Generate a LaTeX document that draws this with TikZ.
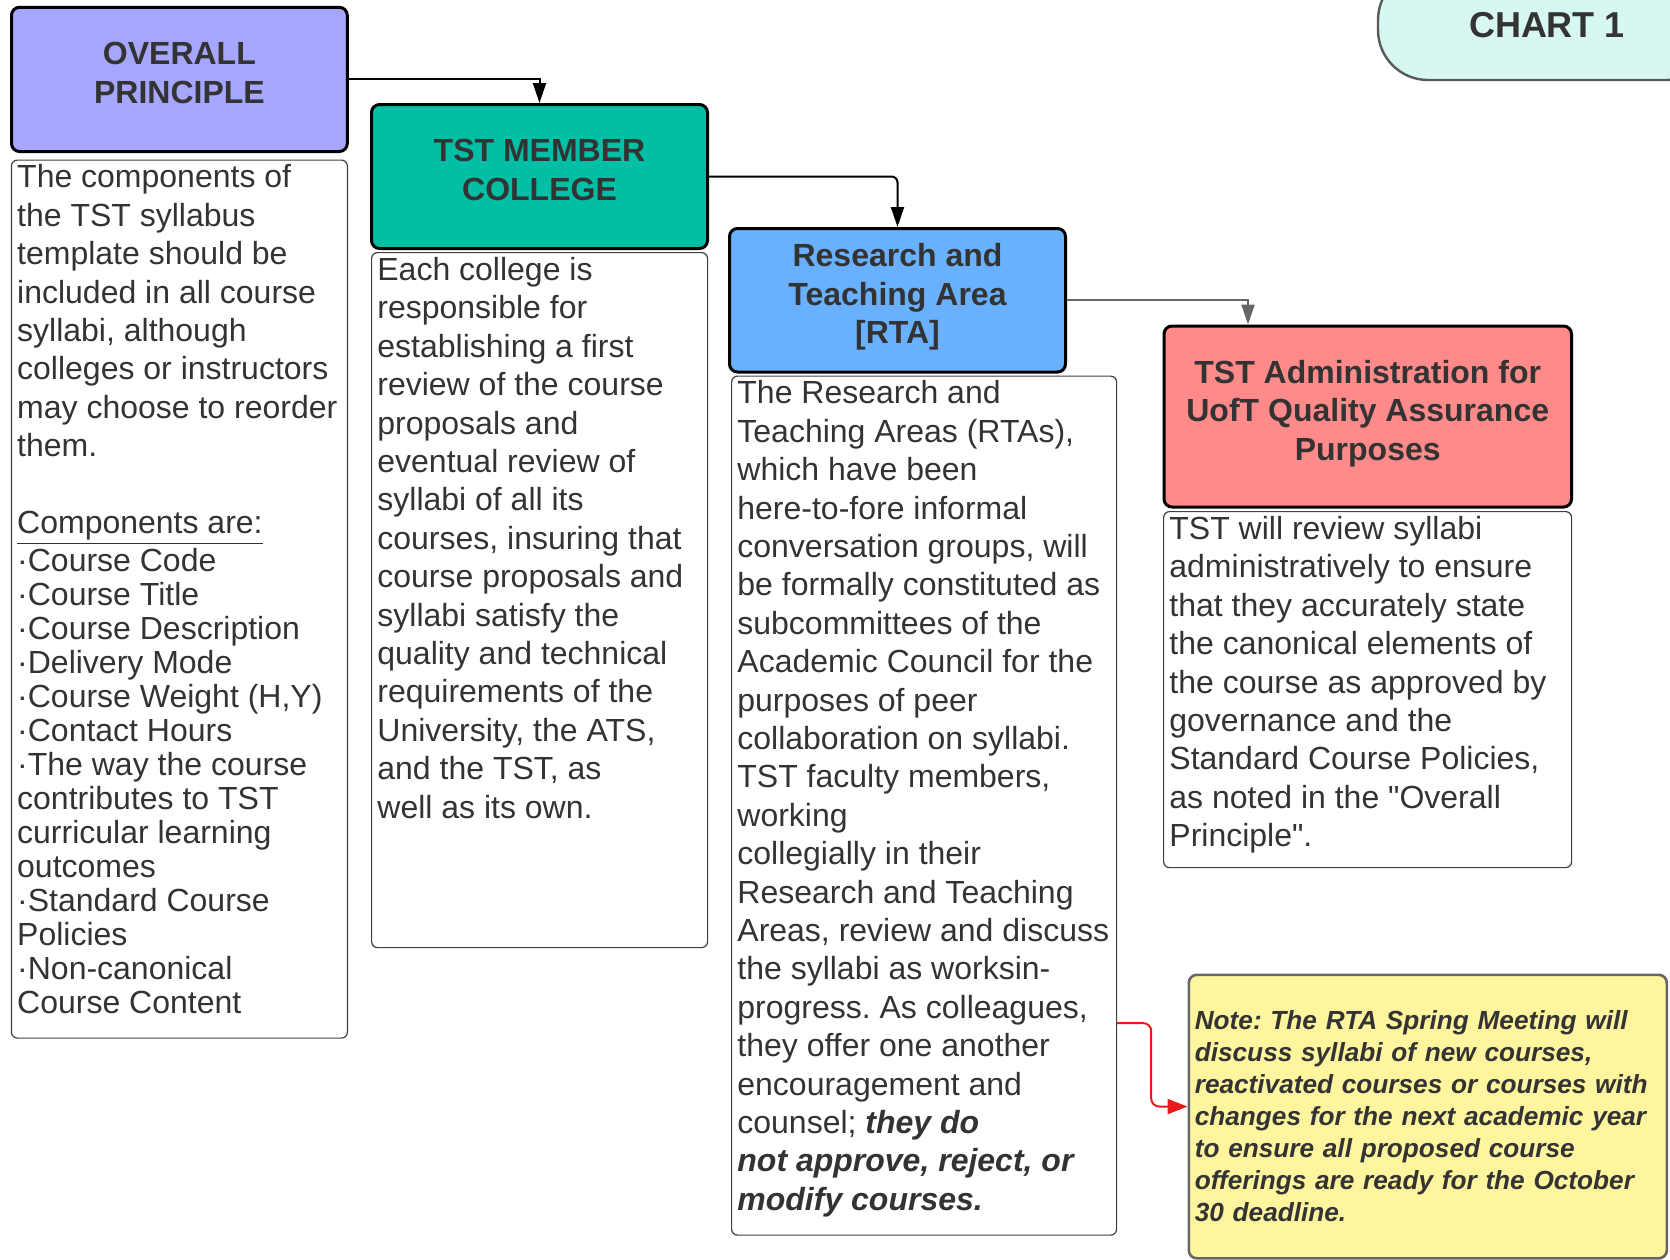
\documentclass[tikz,border=0pt]{standalone}
\usepackage{fontspec}
\setmainfont{Liberation Sans}
\usetikzlibrary{positioning,arrows.meta}

\definecolor{ink}{HTML}{333333}
\definecolor{principlefill}{HTML}{A6A6FF}
\definecolor{collegefill}{HTML}{00BFA5}
\definecolor{rtafill}{HTML}{69B1FF}
\definecolor{adminfill}{HTML}{FF8A8A}
\definecolor{notefill}{HTML}{FFF59E}
\definecolor{chartfill}{HTML}{D7F8F2}
\definecolor{arrowred}{HTML}{E81A1A}

\begin{document}
\frenchspacing
\begin{tikzpicture}[x=0.5pt,y=-0.5pt]

% Page size
\path[use as bounding box,clip] (0,0) rectangle (1670,1259);

% Style for nodes
\tikzstyle{every node}=[text=ink,font=\fontsize{16}{19.2}\selectfont]
\tikzstyle{headbox}=[draw=black,line width=1.5pt,rounded corners=4pt,align=center,inner sep=0pt,anchor=north west,font=\fontsize{16}{19.2}\selectfont\bfseries,execute at end node={\rule[-6.5pt]{0pt}{0pt}}]
\tikzstyle{textframe}=[draw=black!75,line width=0.6pt,rounded corners=3pt,inner sep=0pt]
\tikzstyle{bodytext}=[anchor=north west,align=left,inner xsep=3pt,inner ysep=2.4pt]
\tikzstyle{notebox}=[draw=black!60,fill=notefill,line width=1.3pt,rounded corners=4pt,anchor=north west,text width=233pt,minimum height=141.75pt,inner xsep=3pt,align=left,font=\fontsize{13.1}{16}\selectfont\bfseries\itshape]
\tikzstyle{chartbox}=[draw=black!65,fill=chartfill,line width=1.2pt,rounded corners=25pt,minimum width=169pt,minimum height=55pt,font=\fontsize{18}{21}\selectfont\bfseries]
% Style for connectors
\tikzstyle{link}=[line width=1pt,-{Triangle[length=10pt,width=6.5pt]}]
\tikzstyle{redlink}=[line width=1pt,color=arrowred,rounded corners=4pt,-{Triangle[length=10pt,width=7.5pt]}]

% Overall principle
\node(principle)[headbox,fill=principlefill,minimum width=167.9pt,minimum height=72.1pt] at (10,5.8) {OVERALL\\PRINCIPLE};
\node(principlebox)[textframe,minimum width=168pt,minimum height=439pt,below right=3.25pt and 0.4pt of principle.south west]{};
\node(principletext)[bodytext] at (principlebox.north west) {The components of\\the TST syllabus\\template should be\\included in all course\\syllabi, although\\colleges or instructors\\may choose to reorder\\them.\\ \\\underline{Components are:}\\
·Course Code\\[-2.2pt]·Course Title\\[-2.2pt]·Course Description\\[-2.2pt]·Delivery Mode\\[-2.2pt]·Course Weight (H,Y)\\[-2.2pt]·Contact Hours\\[-2.2pt]·The way the course\\[-2.2pt]contributes to TST\\[-2.2pt]curricular learning\\[-2.2pt]outcomes\\[-2.2pt]·Standard Course\\[-2.2pt]Policies\\[-2.2pt]·Non-canonical\\[-2.2pt]Course Content};

% Member college
\node(college)[headbox,fill=collegefill,minimum width=168pt,minimum height=72pt] at (370,103) {TST MEMBER\\COLLEGE};
\node(collegebox)[textframe,minimum width=168pt,minimum height=347.5pt,below right=1pt and 0.5pt of college.south west]{};
\node(collegetext)[bodytext] at (collegebox.north west) {Each college is\\responsible for\\establishing a first\\review of the course\\proposals and\\eventual review of\\syllabi of all its\\courses, insuring that\\course proposals and\\syllabi satisfy the\\quality and technical\\requirements of the\\University, the ATS,\\and the TST, as\\well as its own.};

% Research and teaching area
\node(rta)[headbox,fill=rtafill,minimum width=168pt,minimum height=71.75pt] at (728,227) {Research and\\Teaching Area\\{[RTA]}};
\node(rtabox)[textframe,minimum width=192.5pt,minimum height=429.5pt,below right=1pt and 1.5pt of rta.south west]{};
\node(rtatext)[bodytext] at (rtabox.north west) {The Research and\\Teaching Areas (RTAs),\\which have been\\here-to-fore informal\\conversation groups, will\\be formally constituted as\\subcommittees of the\\Academic Council for the\\purposes of peer\\collaboration on syllabi.\\TST faculty members,\\working\\collegially in their\\Research and Teaching\\Areas, review and discuss\\the syllabi as worksin-\\progress. As colleagues,\\they offer one another\\encouragement and\\counsel; \textbf{\textit{they do}}\\\textbf{\textit{not approve, reject, or}}\\\textbf{\textit{modify courses.}}};

% TST administration
\node(admin)[headbox,fill=adminfill,minimum width=203.75pt,minimum height=90.5pt] at (1162.5,324.5) {TST Administration for\\UofT Quality Assurance\\Purposes};
\node(adminbox)[textframe,minimum width=204pt,minimum height=178pt,below right=1.25pt and 0.25pt of admin.south west]{};
\node(admintext)[bodytext] at (adminbox.north west) {TST will review syllabi\\administratively to ensure\\that they accurately state\\the canonical elements of\\the course as approved by\\governance and the\\Standard Course Policies,\\as noted in the \textquotedbl Overall\\Principle\textquotedbl.};

% Note and chart title
\node(note)[notebox] at (1187.5,973.5) {Note: The RTA Spring Meeting will\\discuss syllabi of new courses,\\reactivated courses or courses with\\changes for the next academic year\\to ensure all proposed course\\offerings are ready for the October\\30 deadline.};
\node(chart)[chartbox] at (1547,25) {CHART 1};

% Connectors
\draw[link] (principle.east) -| (college.north);
\draw[link,rounded corners=3pt] (college.east) -| (rta.north);
\draw[link,color=black!60] (rta.east) -| ([xshift=42.75pt]admin.north west);
\draw[redlink] ([yshift=-108.75pt]rtabox.east) -- ++(17pt,0) |- ([yshift=5pt]note.west);

\end{tikzpicture}
\end{document}
